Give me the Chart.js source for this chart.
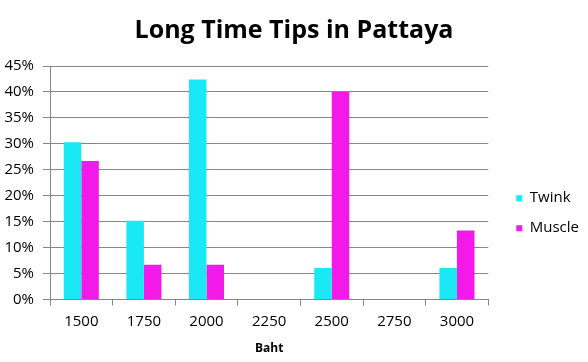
<!DOCTYPE html>
<html lang="en">
  <head>
    <meta charset="UTF-8" />
    <title>Long Time Tips in Pattaya</title>
    <script src="https://cdn.jsdelivr.net/npm/chart.js"></script>
    <style>
      body { margin: 0; background: #fff; }
      #wrap { width: 588px; height: 362px; }
    </style>
  </head>
  <body>
    <div id="wrap"><canvas id="tipsChart"></canvas></div>
    <script>
      // 금액 구간과 비율 (%)
      const labels = ["1500", "1750", "2000", "2250", "2500", "2750", "3000"];
      const twink = [30.3, 15.2, 42.4, 0, 6.1, 0, 6.1];
      const muscle = [26.7, 6.7, 6.7, 0, 40.0, 0, 13.3];

      const font = "'Open Sans', 'Noto Sans', sans-serif";

      // 범례를 오른쪽으로, 제목을 캔버스 가운데로 조금 옮긴다
      const nudge = {
        id: "nudge",
        afterLayout(chart) {
          chart.legend.left += 13;
          chart.legend.right += 13;
          chart.titleBlock.left += 6;
          chart.titleBlock.right += 6;
        },
      };

      const ctx = document.getElementById("tipsChart").getContext("2d");
      new Chart(ctx, {
        type: "bar",
        data: {
          labels: labels,
          datasets: [
            {
              label: "Twink",
              data: twink,
              backgroundColor: "#1ae8f5",
            },
            {
              label: "Muscle",
              data: muscle,
              backgroundColor: "#f31ae9",
            },
          ],
        },
        options: {
          responsive: true,
          maintainAspectRatio: false,
          animation: false,
          categoryPercentage: 0.56,
          barPercentage: 1,
          layout: { padding: { left: 0, right: 12, bottom: 2 } },
          plugins: {
            title: {
              display: true,
              text: "Long Time Tips in Pattaya",
              color: "#000",
              font: { family: font, size: 25, weight: "bold" },
              padding: { top: 16, bottom: 20 },
            },
            legend: {
              position: "right",
              title: {
                display: true,
                text: " ",
                padding: 26,
                font: { family: font, size: 12 },
              },
              labels: {
                color: "#000",
                boxWidth: 6,
                boxHeight: 6,
                padding: 15,
                font: { family: font, size: 15 },
              },
            },
            tooltip: { enabled: false },
          },
          scales: {
            x: {
              grid: {
                offset: true,
                drawOnChartArea: false,
                tickLength: 6,
                color: "#868686",
              },
              border: { color: "#868686" },
              ticks: {
                color: "#000",
                padding: 7,
                font: { family: font, size: 15 },
              },
              title: {
                display: true,
                text: "Baht",
                color: "#000",
                font: { family: font, size: 12, weight: "bold" },
                padding: { top: 4 },
              },
            },
            y: {
              min: 0,
              max: 45,
              afterFit: (scale) => {
                scale.width = 50;
              },
              grid: { color: "#868686", tickLength: 7 },
              border: { color: "#868686" },
              ticks: {
                stepSize: 5,
                color: "#000",
                padding: 9,
                font: { family: font, size: 15 },
                callback: (v) => v + "%",
              },
            },
          },
        },
        plugins: [nudge],
      });
    </script>
  </body>
</html>
